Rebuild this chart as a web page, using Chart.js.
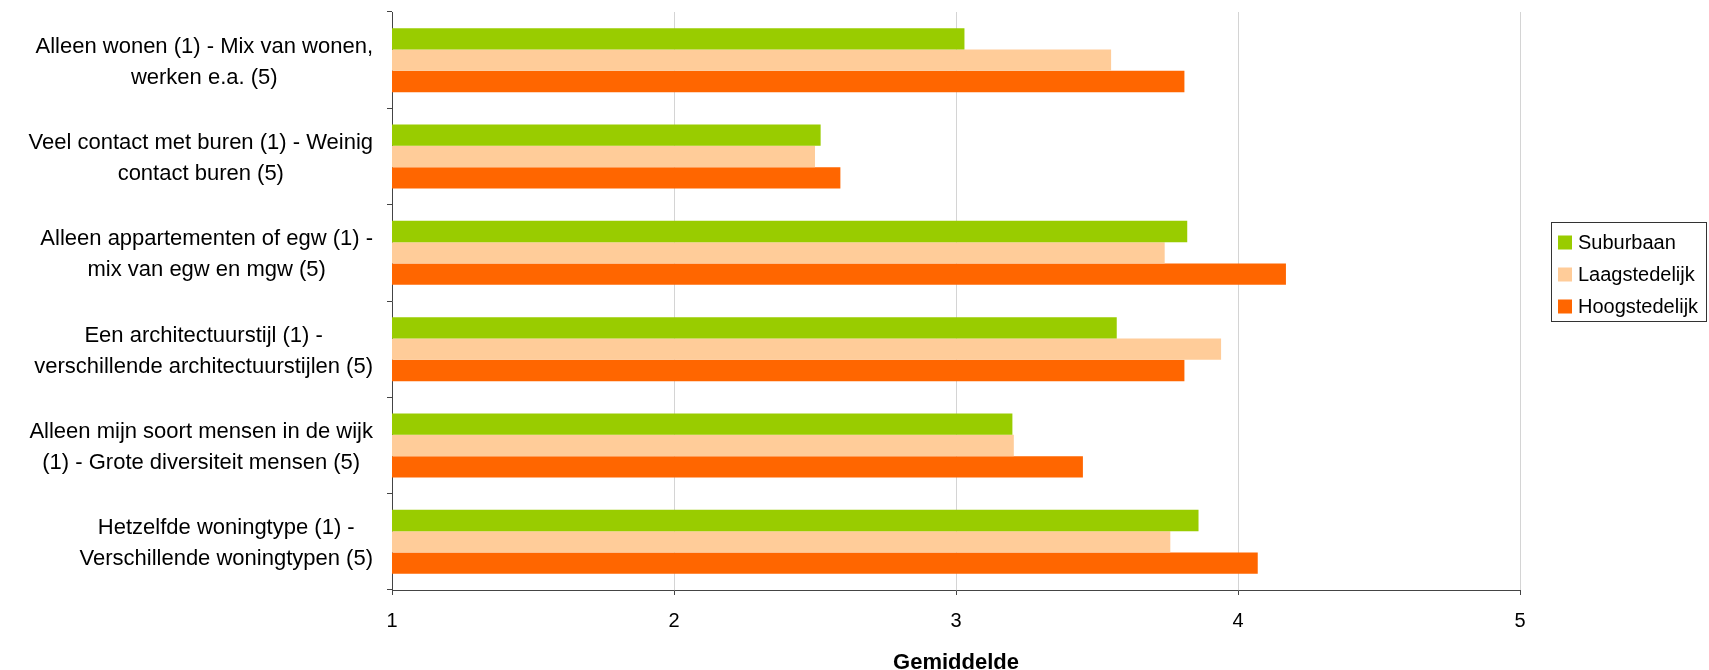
<!DOCTYPE html>
<html>
<head>
<meta charset="utf-8">
<script src="https://cdn.jsdelivr.net/npm/chart.js@4/dist/chart.umd.min.js"></script>
<style>
html,body{margin:0;padding:0;background:#fff;}
#wrap{width:1709px;height:670px;position:relative;}
</style>
</head>
<body>
<div id="wrap"><canvas id="c" width="1709" height="670"></canvas></div>
<script>
const categories = [
  ['Alleen wonen (1) - Mix van wonen,', 'werken e.a. (5)'],
  ['Veel contact met buren (1) - Weinig', 'contact buren (5)'],
  ['Alleen appartementen of egw (1) -', 'mix van egw en mgw (5)'],
  ['Een architectuurstijl (1) -', 'verschillende architectuurstijlen (5)'],
  ['Alleen mijn soort mensen in de wijk', '(1) - Grote diversiteit mensen (5)'],
  ['Hetzelfde woningtype (1) -', 'Verschillende woningtypen (5)']
];
const seriesNames = ['Suburbaan', 'Laagstedelijk', 'Hoogstedelijk'];
const suburbaan = [3.03, 2.52, 3.82, 3.57, 3.20, 3.86];
const laagstedelijk = [3.55, 2.50, 3.74, 3.94, 3.205, 3.76];
const hoogstedelijk = [3.81, 2.59, 4.17, 3.81, 3.45, 4.07];
const xTicks = [1, 2, 3, 4, 5];
const xTitle = 'Gemiddelde';

const colors = ['#99CC00', '#FFCC99', '#FF6600'];
const FONT = '"Liberation Sans", Arial, Helvetica, sans-serif';

const yLabelPlugin = {
  id: 'yLabels',
  afterDraw(chart) {
    const ctx = chart.ctx;
    const ys = chart.scales.y;
    ctx.save();
    ctx.font = '22px ' + FONT;
    ctx.fillStyle = '#000';
    ctx.textAlign = 'center';
    ctx.textBaseline = 'middle';
    const right = 373, lh = 31;
    categories.forEach((lines, i) => {
      const y = ys.getPixelForTick(i);
      const w = Math.max(...lines.map(l => ctx.measureText(l).width));
      const cx = right - w / 2;
      lines.forEach((l, j) => {
        ctx.fillText(l, cx, y + (j - (lines.length - 1) / 2) * lh + 2);
      });
    });
    ctx.restore();
  }
};

const legendPlugin = {
  id: 'boxLegend',
  afterDraw(chart) {
    const ctx = chart.ctx;
    ctx.save();
    ctx.strokeStyle = '#333';
    ctx.lineWidth = 1;
    ctx.strokeRect(1551.5, 222.5, 155, 99);
    ctx.font = '20px ' + FONT;
    ctx.textBaseline = 'middle';
    ctx.textAlign = 'left';
    seriesNames.forEach((n, i) => {
      const cy = 242.5 + i * 32;
      ctx.fillStyle = colors[i];
      ctx.fillRect(1558, cy - 7, 14, 14);
      ctx.fillStyle = '#000';
      ctx.fillText(n, 1578, cy + 1);
    });
    ctx.restore();
  }
};

new Chart(document.getElementById('c'), {
  type: 'bar',
  data: {
    labels: categories.map(c => c.join(' ')),
    datasets: [
      { label: seriesNames[0], data: suburbaan, backgroundColor: colors[0] },
      { label: seriesNames[1], data: laagstedelijk, backgroundColor: colors[1] },
      { label: seriesNames[2], data: hoogstedelijk, backgroundColor: colors[2] }
    ]
  },
  options: {
    indexAxis: 'y',
    responsive: false,
    animation: false,
    devicePixelRatio: 1,
    layout: { padding: { left: 0, right: 189, top: 12, bottom: 0 } },
    datasets: { bar: { categoryPercentage: 0.665, barPercentage: 1.0, borderWidth: 0 } },
    plugins: { legend: { display: false }, tooltip: { enabled: false } },
    scales: {
      x: {
        type: 'linear',
        min: 1, max: 5,
        afterBuildTicks(s) { s.ticks = xTicks.map(v => ({ value: v })); },
        afterFit(s) { s.height = 80; },
        grid: { color: '#d4d4d4', tickColor: '#444', tickLength: 5, lineWidth: 1 },
        border: { color: '#444', width: 1 },
        ticks: { color: '#000', font: { family: FONT, size: 20 }, padding: 14, maxRotation: 0 },
        title: { display: true, text: xTitle, color: '#000', font: { family: FONT, size: 22, weight: 'bold', lineHeight: '14px' }, padding: { top: 0, bottom: 0 } }
      },
      y: {
        type: 'category',
        afterFit(s) { s.width = 392; },
        grid: { drawOnChartArea: false, tickColor: '#444', tickLength: 5, offset: true },
        border: { color: '#444', width: 1 },
        ticks: { display: false }
      }
    }
  },
  plugins: [yLabelPlugin, legendPlugin]
});
</script>
</body>
</html>
